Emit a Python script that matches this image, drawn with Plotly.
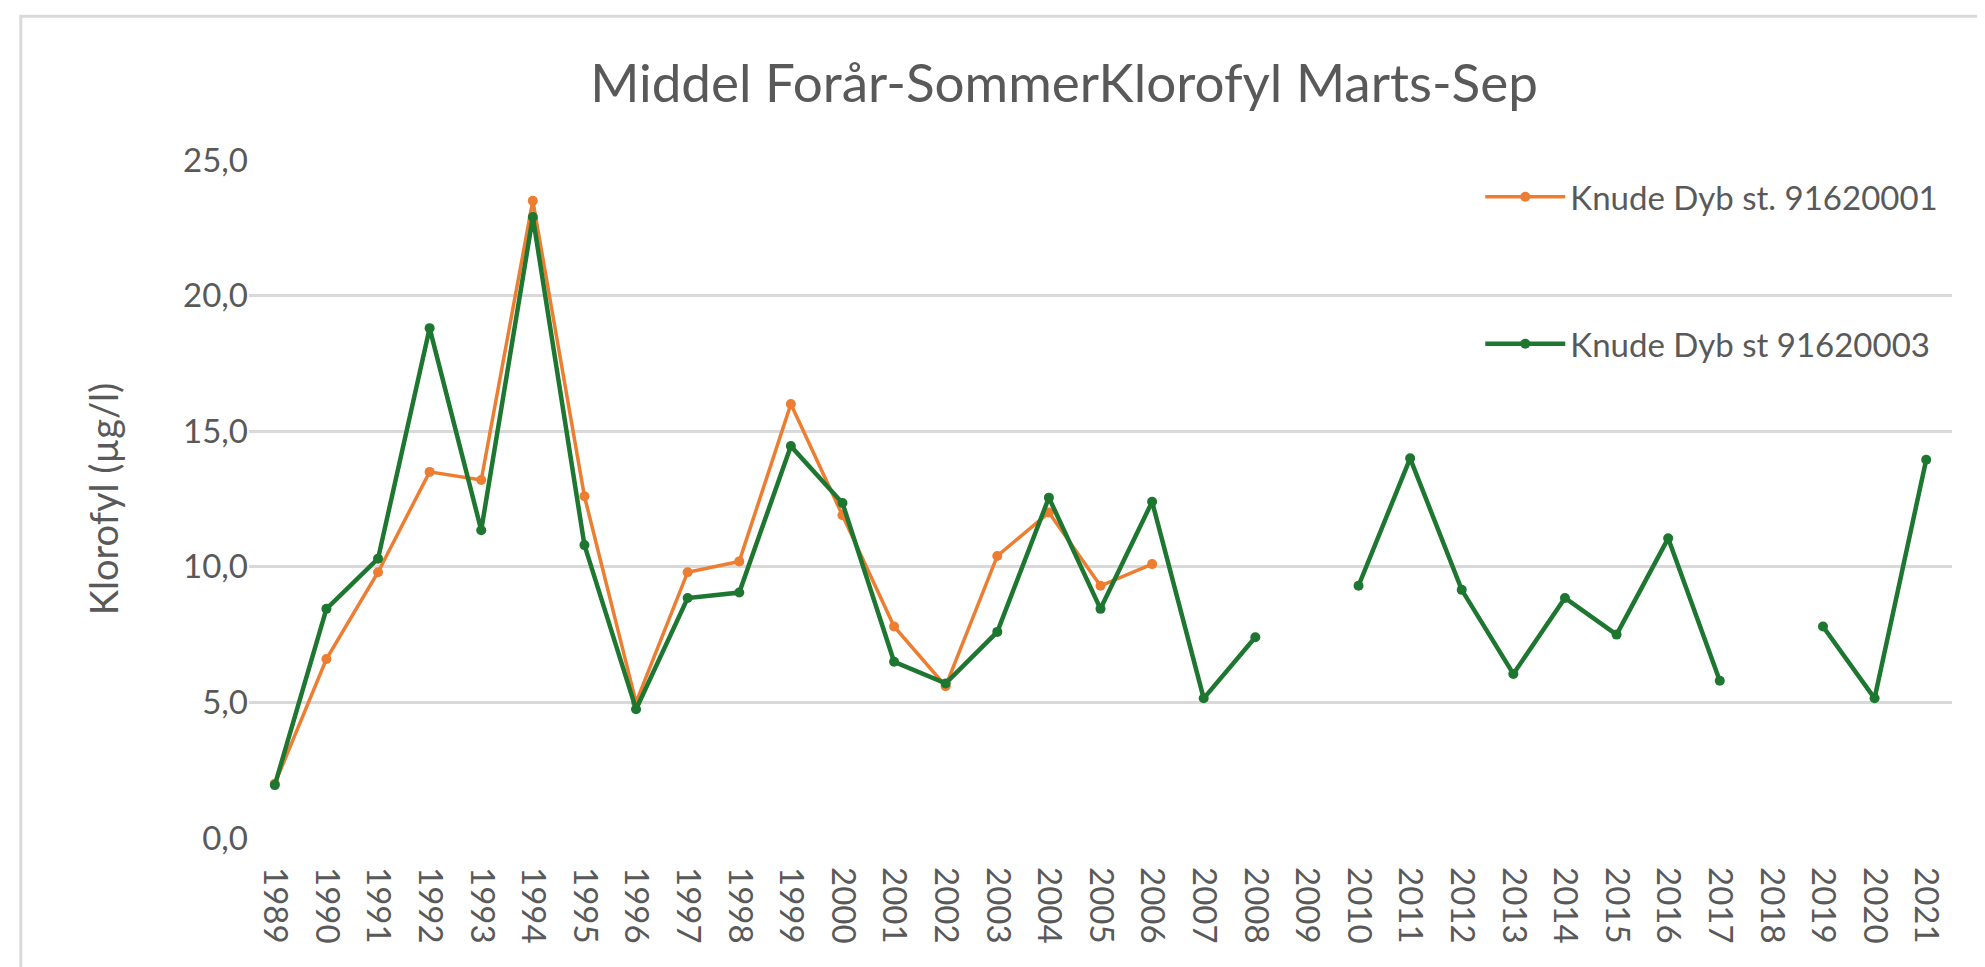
import plotly.graph_objects as go

years = [str(y) for y in range(1989, 2022)]

# Knude Dyb st. 91620001 (orange) - only measured 1989-2006
st_91620001 = [2.0, 6.6, 9.8, 13.5, 13.2, 23.5, 12.6, 5.0, 9.8, 10.2,
               16.0, 11.9, 7.8, 5.6, 10.4, 12.0, 9.3, 10.1,
               None, None, None, None, None, None, None, None, None,
               None, None, None, None, None, None]

# Knude Dyb st 91620003 (green) - gaps in 2009 and 2018
st_91620003 = [1.95, 8.45, 10.3, 18.8, 11.35, 22.9, 10.8, 4.75, 8.85, 9.05,
               14.45, 12.35, 6.5, 5.7, 7.6, 12.55, 8.45, 12.4, 5.15, 7.4,
               None, 9.3, 14.0, 9.15, 6.05, 8.85, 7.5, 11.05, 5.8, None,
               7.8, 5.15, 13.95]

TEXT = "#595959"
GRID = "#D9D9D9"
FONT = "Lato, Liberation Sans, sans-serif"

fig = go.Figure()
fig.add_trace(go.Scatter(
    x=years, y=st_91620001, name="Knude Dyb st. 91620001",
    mode="lines+markers", legendgroup="a",
    line=dict(color="#ED7D31", width=3.5),
    marker=dict(color="#ED7D31", size=10),
))
fig.add_trace(go.Scatter(
    x=years, y=st_91620003, name="Knude Dyb st 91620003",
    mode="lines+markers", legendgroup="b",
    line=dict(color="#1E7730", width=4.5),
    marker=dict(color="#1E7730", size=10),
))

fig.update_layout(
    width=1985, height=967,
    paper_bgcolor="white", plot_bgcolor="white",
    separators=", ",
    font=dict(family=FONT, color=TEXT, size=33),
    margin=dict(l=241, r=41, t=152, b=137),
    title=dict(
        text="Middel Forår-SommerKlorofyl Marts-Sep",
        font=dict(size=53, color=TEXT),
        x=0.532, xanchor="center", xref="container",
        y=0.922, yanchor="middle", yref="container",
    ),
    showlegend=True,
    legend=dict(
        x=0.723, xanchor="left", y=0.987, yanchor="top",
        bgcolor="rgba(0,0,0,0)", font=dict(size=33, color=TEXT),
        traceorder="grouped", tracegroupgap=101, itemwidth=80,
    ),
    shapes=[dict(
        type="rect", xref="paper", yref="paper",
        x0=-0.134, x1=1.2, y0=-0.4, y1=1.212,
        line=dict(color=GRID, width=3), fillcolor="rgba(0,0,0,0)",
        layer="below",
    )],
)

fig.update_xaxes(
    type="category", range=[-0.5, 32.5],
    tickangle=90, showgrid=False, showline=False, ticks="",
    ticklabelstandoff=28,
    tickfont=dict(size=33, color=TEXT),
)
fig.update_yaxes(
    range=[0, 25], dtick=5, tickformat=".1f",
    showgrid=True, gridcolor=GRID, gridwidth=3,
    zeroline=False, showline=False, ticks="",
    tickfont=dict(size=33, color=TEXT),
    title=dict(text="Klorofyl (µg/l)", font=dict(size=38, color=TEXT), standoff=52),
)

fig.write_html("out.html")
